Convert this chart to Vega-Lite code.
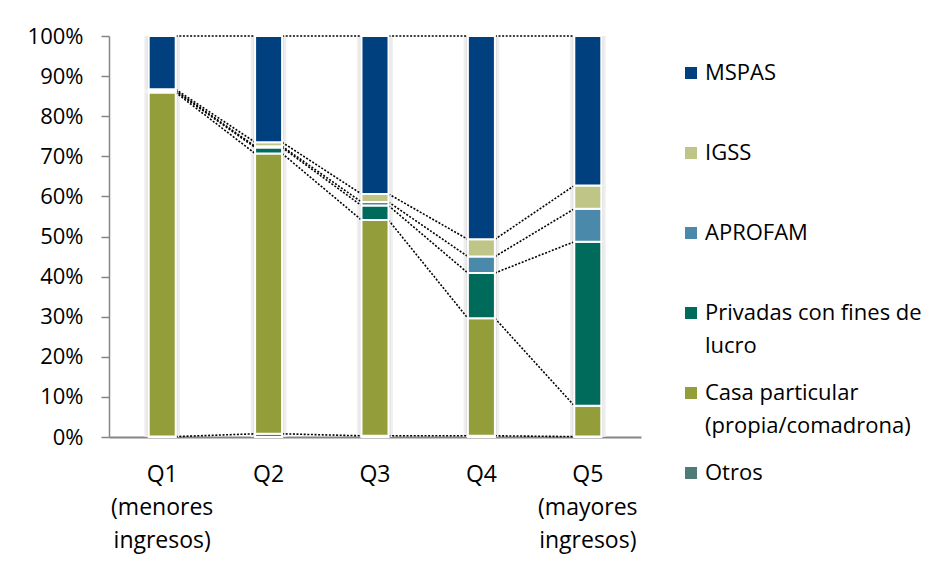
{
  "$schema": "https://vega.github.io/schema/vega-lite/v6.json",
  "width": 532,
  "height": 401,
  "autosize": {"type": "none"},
  "padding": {"left": 109, "top": 36, "right": 307, "bottom": 130},
  "background": "white",
  "config": {
    "view": {"stroke": null},
    "font": "Open Sans",
    "style": {"guide-label": {"lineHeight": 33}}
  },
  "data": {
    "values": [
      {"q": "Q1", "serie": "Otros", "orden": 1, "valor": 0.001},
      {"q": "Q1", "serie": "Casa particular (propia/comadrona)", "orden": 2, "valor": 0.858},
      {"q": "Q1", "serie": "Privadas con fines de lucro", "orden": 3, "valor": 0.003},
      {"q": "Q1", "serie": "APROFAM", "orden": 4, "valor": 0.002},
      {"q": "Q1", "serie": "IGSS", "orden": 5, "valor": 0.003},
      {"q": "Q1", "serie": "MSPAS", "orden": 6, "valor": 0.133},
      {"q": "Q2", "serie": "Otros", "orden": 1, "valor": 0.008},
      {"q": "Q2", "serie": "Casa particular (propia/comadrona)", "orden": 2, "valor": 0.699},
      {"q": "Q2", "serie": "Privadas con fines de lucro", "orden": 3, "valor": 0.015},
      {"q": "Q2", "serie": "APROFAM", "orden": 4, "valor": 0.003},
      {"q": "Q2", "serie": "IGSS", "orden": 5, "valor": 0.010},
      {"q": "Q2", "serie": "MSPAS", "orden": 6, "valor": 0.265},
      {"q": "Q3", "serie": "Otros", "orden": 1, "valor": 0.003},
      {"q": "Q3", "serie": "Casa particular (propia/comadrona)", "orden": 2, "valor": 0.538},
      {"q": "Q3", "serie": "Privadas con fines de lucro", "orden": 3, "valor": 0.036},
      {"q": "Q3", "serie": "APROFAM", "orden": 4, "valor": 0.009},
      {"q": "Q3", "serie": "IGSS", "orden": 5, "valor": 0.020},
      {"q": "Q3", "serie": "MSPAS", "orden": 6, "valor": 0.394},
      {"q": "Q4", "serie": "Otros", "orden": 1, "valor": 0.003},
      {"q": "Q4", "serie": "Casa particular (propia/comadrona)", "orden": 2, "valor": 0.293},
      {"q": "Q4", "serie": "Privadas con fines de lucro", "orden": 3, "valor": 0.113},
      {"q": "Q4", "serie": "APROFAM", "orden": 4, "valor": 0.041},
      {"q": "Q4", "serie": "IGSS", "orden": 5, "valor": 0.043},
      {"q": "Q4", "serie": "MSPAS", "orden": 6, "valor": 0.507},
      {"q": "Q5", "serie": "Otros", "orden": 1, "valor": 0.001},
      {"q": "Q5", "serie": "Casa particular (propia/comadrona)", "orden": 2, "valor": 0.077},
      {"q": "Q5", "serie": "Privadas con fines de lucro", "orden": 3, "valor": 0.409},
      {"q": "Q5", "serie": "APROFAM", "orden": 4, "valor": 0.082},
      {"q": "Q5", "serie": "IGSS", "orden": 5, "valor": 0.058},
      {"q": "Q5", "serie": "MSPAS", "orden": 6, "valor": 0.373}
    ]
  },
  "transform": [
    {"stack": "valor", "groupby": ["q"], "sort": [{"field": "orden", "order": "ascending"}], "as": ["y0", "y1"]}
  ],
  "layer": [
    {
      "mark": {"type": "bar", "color": "#eeeeee", "width": {"band": 1.32}},
      "encoding": {
        "x": {"field": "q", "type": "nominal"},
        "y": {"field": "y0", "type": "quantitative"},
        "y2": {"field": "y1"}
      }
    },
    {
      "mark": {"type": "bar", "color": "#dedede", "width": {"band": 1.14}},
      "encoding": {
        "x": {"field": "q", "type": "nominal"},
        "y": {"field": "y0", "type": "quantitative"},
        "y2": {"field": "y1"}
      }
    },
    {
      "transform": [
        {"window": [{"op": "lead", "field": "y1", "as": "y1n"}, {"op": "lead", "field": "q", "as": "qn"}], "groupby": ["serie"], "sort": [{"field": "q", "order": "ascending"}], "frame": [null, null]},
        {"filter": "datum.qn != null"}
      ],
      "mark": {"type": "rule", "strokeDash": [2, 1.6], "strokeWidth": 1.6, "color": "black"},
      "encoding": {
        "x": {"field": "q", "type": "nominal", "bandPosition": 1},
        "x2": {"field": "qn", "bandPosition": 0},
        "y": {"field": "y1", "type": "quantitative"},
        "y2": {"field": "y1n"}
      }
    },
    {
      "mark": {"type": "bar", "stroke": "white", "strokeWidth": 2},
      "encoding": {
        "x": {
          "field": "q",
          "type": "nominal",
          "scale": {"type": "band", "paddingInner": 0.746, "paddingOuter": 0.373},
          "axis": {
            "title": null,
            "ticks": false,
            "bandPosition": 0.5,
            "domainColor": "#868686",
            "domainWidth": 2,
            "labelAngle": 0,
            "labelAlign": "center",
            "labelFont": "Open Sans",
            "labelFontSize": 23,
            "labelColor": "black",
            "labelPadding": 26,
            "labelBaseline": "top",
            "labelLineHeight": 33,
            "labelExpr": "datum.value == 'Q1' ? ['Q1', '(menores', 'ingresos)'] : datum.value == 'Q5' ? ['Q5', '(mayores', 'ingresos)'] : datum.value"
          }
        },
        "y": {
          "field": "y0",
          "type": "quantitative",
          "scale": {"domain": [0, 1], "nice": false},
          "axis": {
            "title": null,
            "format": "%",
            "values": [0, 0.1, 0.2, 0.3, 0.4, 0.5, 0.6, 0.7, 0.8, 0.9, 1],
            "grid": false,
            "domainColor": "#868686",
            "domainWidth": 1.5,
            "tickColor": "#868686",
            "tickWidth": 1.5,
            "tickSize": 8,
            "labelFont": "Open Sans",
            "labelFontSize": 22,
            "labelColor": "black",
            "labelPadding": 18
          }
        },
        "y2": {"field": "y1"},
        "color": {
          "field": "serie",
          "type": "nominal",
          "scale": {
            "domain": ["MSPAS", "IGSS", "APROFAM", "Privadas con fines de lucro", "Casa particular (propia/comadrona)", "Otros"],
            "range": ["#00407f", "#bfc586", "#4a89aa", "#006b5b", "#939d3a", "#4d7b78"]
          },
          "legend": {
            "title": null,
            "orient": "none",
            "legendX": 571,
            "legendY": 33,
            "padding": 0,
            "labelFont": "Open Sans",
            "labelFontSize": 22,
            "labelColor": "black",
            "labelBaseline": "alphabetic",
            "labelOffset": 3,
            "labelLimit": 400,
            "symbolType": "M-1,-2.167L1,-2.167L1,-0.167L-1,-0.167Z",
            "symbolSize": 144,
            "symbolStrokeWidth": 0,
            "rowPadding": 25,
            "gridAlign": "all",
            "labelExpr": "datum.label == 'Privadas con fines de lucro' ? ['Privadas con fines de', 'lucro'] : datum.label == 'Casa particular (propia/comadrona)' ? ['Casa particular', '(propia/comadrona)'] : datum.label"
          }
        }
      }
    }
  ]
}
